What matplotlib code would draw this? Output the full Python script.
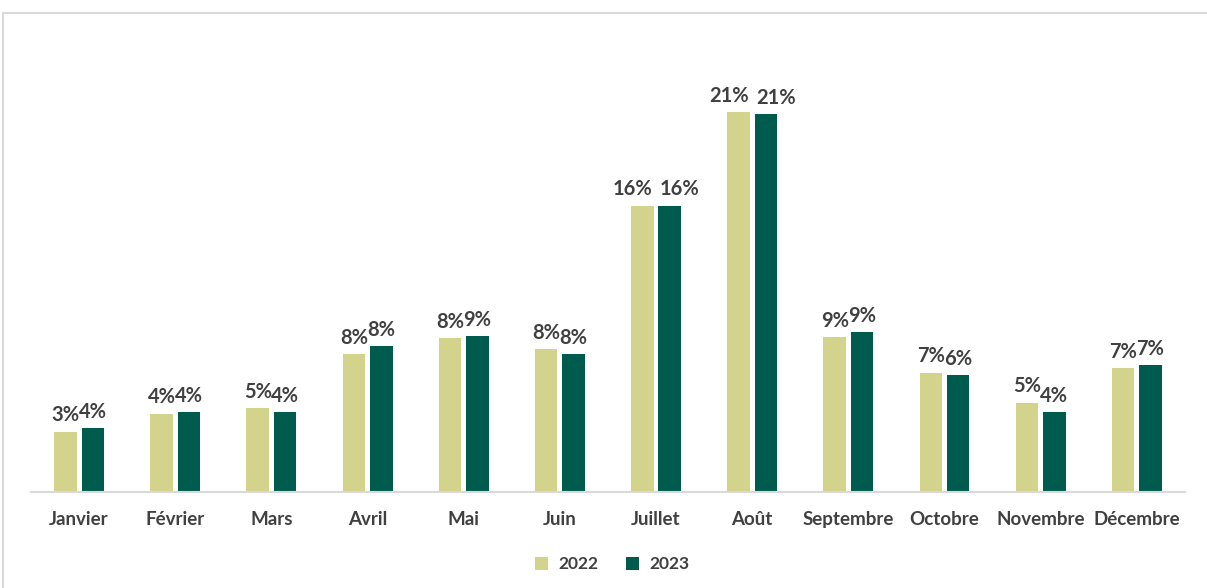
import matplotlib
matplotlib.use("Agg")
import matplotlib.pyplot as plt
import numpy as np
from matplotlib.patches import Rectangle

months = ["Janvier", "Février", "Mars", "Avril", "Mai", "Juin",
          "Juillet", "Août", "Septembre", "Octobre", "Novembre", "Décembre"]
share_2022 = [3.33, 4.33, 4.62, 7.61, 8.49, 7.90, 15.82, 20.98, 8.55, 6.59, 4.93, 6.83]
share_2023 = [3.52, 4.40, 4.40, 8.07, 8.62, 7.62, 15.82, 20.87, 8.84, 6.46, 4.40, 7.00]
series_labels = ["2022", "2023"]

color_2022 = "#D3D38B"
color_2023 = "#005B4F"
text_color = "#404040"

plt.rcParams["font.family"] = ["Lato", "DejaVu Sans"]

fig = plt.figure(figsize=(12.07, 5.88), dpi=100)
ax = fig.add_axes([0.0257, 0.1633, 0.956, 0.7388])

x = np.arange(len(months))
width = 0.234
offset = 0.1425

bars_a = ax.bar(x - offset, share_2022, width, color=color_2022, label=series_labels[0])
bars_b = ax.bar(x + offset, share_2023, width, color=color_2023, label=series_labels[1])

# two-digit labels are pushed outward a bit so the pair does not collide
for bars, vals, side in ((bars_a, share_2022, -1), (bars_b, share_2023, 1)):
    for bar, v in zip(bars, vals):
        label = f"{v:.0f}%"
        dx = side * 7 if len(label) > 2 else 0
        ax.annotate(label, (bar.get_x() + bar.get_width() / 2, v),
                    xytext=(dx, 4.5), textcoords="offset points",
                    ha="center", va="bottom", fontsize=14.5, fontweight="bold",
                    color=text_color)

ax.set_xlim(-0.5, len(months) - 0.5)
ax.set_ylim(0, 24)
ax.set_xticks(x)
ax.set_xticklabels(months, fontsize=13.5, fontweight="bold", color=text_color)
ax.tick_params(axis="x", length=0, pad=14)
ax.set_yticks([])
for side in ("top", "right", "left"):
    ax.spines[side].set_visible(False)
ax.spines["bottom"].set_color("#D9D9D9")
ax.spines["bottom"].set_linewidth(1.5)

leg = fig.legend(loc="center", bbox_to_anchor=(0.507, 0.04), ncol=2, frameon=False,
                 handlelength=0.75, handleheight=0.75, handletextpad=0.6, columnspacing=1.6,
                 prop={"size": 12.5, "weight": "bold"})
for t in leg.get_texts():
    t.set_color(text_color)

# chart frame
fig.patches.append(Rectangle((3 / 1207, -0.05), 1.1, 1 - 13 / 588 + 0.05,
                             transform=fig.transFigure, fill=False,
                             edgecolor="#D9D9D9", linewidth=1.5))

fig.savefig("out.png", dpi=100)
